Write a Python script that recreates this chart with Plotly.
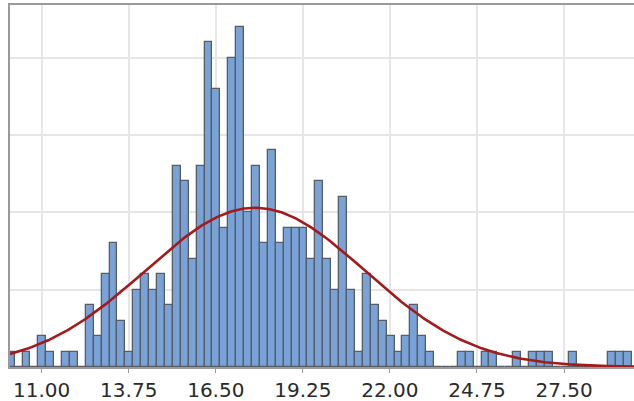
import numpy as np
import plotly.graph_objects as go

# Histogram data (counts per bin)
bin_start = 9.895
bin_width = 0.25
counts = [1, 0, 1, 0, 2, 1, 0, 1, 1, 0,
          4, 2, 6, 8, 3, 1, 5, 6, 5, 6,
          4, 13, 12, 7, 13, 21, 18, 9, 20, 22,
          10, 13, 8, 14, 8, 9, 9, 9, 7, 12,
          7, 5, 11, 5, 1, 6, 4, 3, 2, 1,
          2, 4, 2, 1, 0, 0, 0, 1, 1, 0,
          1, 1, 0, 0, 1, 0, 1, 1, 1, 0,
          0, 1, 0, 0, 0, 0, 1, 1, 1]

# Fitted normal curve parameters
fit_mean = 17.74
fit_sd = 3.46

tick_values = [11.00, 13.75, 16.50, 19.25, 22.00, 24.75, 27.50]
tick_labels = ["11.00", "13.75", "16.50", "19.25", "22.00", "24.75", "27.50"]

x_min, x_max = 10.0, 29.71
y_max = 23.4

centers = [bin_start + bin_width * (i + 0.5) for i in range(len(counts))]
n_total = sum(counts)

cx = np.linspace(x_min, x_max, 400)
cy = n_total * bin_width / (fit_sd * np.sqrt(2 * np.pi)) * np.exp(-0.5 * ((cx - fit_mean) / fit_sd) ** 2)

fig = go.Figure()
fig.add_trace(go.Bar(
    x=centers, y=counts, width=bin_width,
    marker=dict(color="#79A2D8", line=dict(color="#585C63", width=1.3)),
    hoverinfo="x+y",
))
fig.add_trace(go.Scatter(
    x=cx, y=cy, mode="lines",
    line=dict(color="#A31A1C", width=2.6),
    hoverinfo="skip",
))

fig.update_layout(
    width=634, height=401,
    margin=dict(l=10, r=0, t=5, b=34),
    paper_bgcolor="white", plot_bgcolor="white",
    showlegend=False, bargap=0,
    font=dict(family="DejaVu Sans", size=20, color="#2A2A2A"),
)
fig.update_xaxes(
    range=[x_min, x_max],
    tickvals=tick_values, ticktext=tick_labels,
    showgrid=True, gridcolor="#E6E6E6", gridwidth=1.5,
    showline=True, linecolor="#9A9A9A", linewidth=2, mirror=True,
    ticks="outside", ticklen=4, tickcolor="#9A9A9A",
    zeroline=False,
    tickfont=dict(family="DejaVu Sans", size=20, color="#2A2A2A"),
)
fig.update_yaxes(
    range=[0, y_max], dtick=5,
    showticklabels=False,
    showgrid=True, gridcolor="#E6E6E6", gridwidth=1.5,
    showline=True, linecolor="#9A9A9A", linewidth=1.5,
    zeroline=False,
)

fig.write_html("out.html")
